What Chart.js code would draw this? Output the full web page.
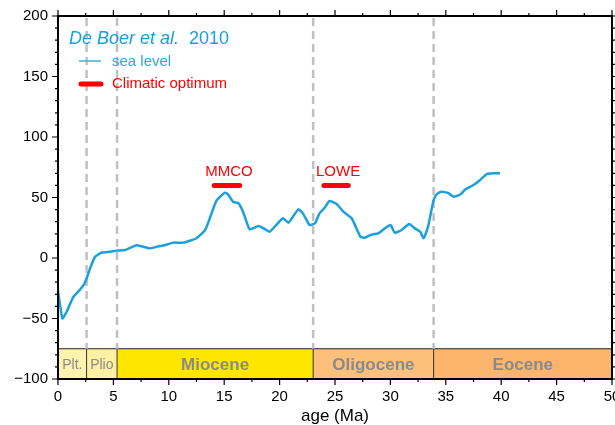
<!DOCTYPE html>
<html>
<head>
<meta charset="utf-8">
<script src="https://cdn.jsdelivr.net/npm/chart.js@4"></script>
<style>
  body { margin: 0; background: #fff; }
</style>
</head>
<body>
<canvas id="myChart" width="615" height="425"></canvas>
<script>
// sea level curve (De Boer et al. 2010), age in Ma, level in m
const ages = [0, 0.4, 0.8, 1.4, 2.0, 2.45, 2.9, 3.35, 3.95, 4.7, 5.3, 6.05, 7.1, 8.3, 9.2, 9.7,
    10.4, 11.3, 12.5, 13.27, 13.7, 14.3, 15.07, 15.4, 15.8, 16.3, 16.7, 17.3, 18.1, 18.7, 19.1,
    19.7, 20.3, 20.8, 21.2, 21.7, 22.1, 22.7, 23.2, 23.6, 24.1, 24.5, 25.15, 25.75, 26.5, 27.3,
    27.7, 28.2, 28.9, 29.5, 30.0, 30.4, 31.0, 31.7, 32.2, 32.7, 33.0, 33.4, 33.9, 34.2, 34.6,
    35.2, 35.7, 36.3, 36.8, 37.5, 38.1, 38.7, 39.3, 39.9];
const seaLevel = [-27, -50, -44, -32, -26, -20, -8.5, 1, 4.5, 5.2, 6.1, 6.6, 10.5, 8, 9.9, 10.7,
    12.7, 12.7, 16.3, 23, 32.8, 47.4, 54, 52, 46.5, 45.2, 38.3, 23.7, 26.4, 23.7, 21.7,
    27.3, 32.8, 29.2, 34.1, 40.2, 36.9, 27.3, 28.7, 36.9, 41.9, 47.1, 44.6, 38.3, 32.8, 17.6,
    16.8, 19, 20.4, 24.5, 27.3, 20.9, 23.1, 28.1, 24.5, 21.7, 16.3, 25.9, 47.9, 52.9, 54.8,
    53.8, 50.7, 52.5, 57, 60.3, 64.5, 69.4, 70, 70];

// climatic optima
const optNames = ['MMCO', 'LOWE'];
const optStart = [14.1, 24.0];
const optEnd = [16.4, 26.2];
const optLevel = 60;

// epochs
const epochNames = ['Plt.', 'Plio', 'Miocene', 'Oligocene', 'Eocene'];
const epochStart = [0, 2.58, 5.33, 23.03, 33.9];
const epochEnd = [2.58, 5.33, 23.03, 33.9, 56];
const epochColors = ['#fff3b0', '#fff0a4', '#ffe600', '#fdc07a', '#fdb46c'];
const epochBold = [false, false, true, true, true];
const epochTop = -75;
const epochBottom = -100;

const xTicks = [0, 5, 10, 15, 20, 25, 30, 35, 40, 45, 50];
const yTicks = [-100, -50, 0, 50, 100, 150, 200];

const FONT = '"Liberation Sans", Arial, Helvetica, sans-serif';
const BLUE = '#1aa0dc';
const RED = '#ff0000';

const points = ages.map((a, i) => ({ x: a, y: seaLevel[i] }));
const optSets = optNames.map((n, i) => ({
    label: n,
    data: [{ x: optStart[i], y: optLevel }, { x: optEnd[i], y: optLevel }],
    borderColor: RED,
    borderWidth: 5,
    borderCapStyle: 'round',
    pointRadius: 0,
    tension: 0
}));

// background: epoch bands + dashed boundaries
const bandsPlugin = {
    id: 'bands',
    beforeDatasetsDraw(chart) {
        const ctx = chart.ctx;
        const xs = chart.scales.x, ys = chart.scales.y;
        const area = chart.chartArea;
        const yT = ys.getPixelForValue(epochTop), yB = ys.getPixelForValue(epochBottom);
        ctx.save();
        ctx.beginPath();
        ctx.rect(area.left, area.top, area.right - area.left, area.bottom - area.top);
        ctx.clip();
        for (let i = 0; i < epochNames.length; i++) {
            const x0 = xs.getPixelForValue(epochStart[i]);
            const x1 = Math.min(xs.getPixelForValue(epochEnd[i]), area.right);
            ctx.fillStyle = epochColors[i];
            ctx.fillRect(x0, yT, x1 - x0, yB - yT);
            ctx.strokeStyle = '#333';
            ctx.lineWidth = 1;
            ctx.beginPath();
            ctx.moveTo(x0, yT); ctx.lineTo(x0, yB);
            ctx.stroke();
            ctx.fillStyle = '#8a8a8a';
            ctx.font = (epochBold[i] ? 'bold 17px ' : '14px ') + FONT;
            ctx.textAlign = 'center';
            ctx.textBaseline = 'middle';
            ctx.fillText(epochNames[i], (x0 + x1) / 2, (yT + yB) / 2 + 1);
        }
        ctx.strokeStyle = '#222';
        ctx.lineWidth = 1.2;
        ctx.beginPath();
        ctx.moveTo(area.left, yT); ctx.lineTo(area.right, yT);
        ctx.stroke();
        // dashed boundaries
        ctx.strokeStyle = '#c0c0c0';
        ctx.lineWidth = 2.5;
        ctx.setLineDash([8, 5]);
        for (let i = 1; i < epochNames.length; i++) {
            const x = xs.getPixelForValue(epochStart[i]);
            ctx.beginPath();
            ctx.moveTo(x, area.top + 2); ctx.lineTo(x, yT);
            ctx.stroke();
        }
        ctx.restore();
    }
};

// frame, ticks, texts
const overlayPlugin = {
    id: 'overlay',
    afterDraw(chart) {
        const ctx = chart.ctx;
        const xs = chart.scales.x, ys = chart.scales.y;
        const a = chart.chartArea;
        ctx.save();
        ctx.strokeStyle = '#000';
        ctx.lineWidth = 1.2;
        // x ticks, major every 5, minor every 2.5
        for (let v = 0; v <= 50; v += 2.5) {
            const x = xs.getPixelForValue(v);
            const len = v % 5 === 0 ? 6 : 3;
            ctx.beginPath();
            ctx.moveTo(x, a.bottom); ctx.lineTo(x, a.bottom + len);
            ctx.moveTo(x, a.top); ctx.lineTo(x, a.top - len);
            ctx.stroke();
        }
        for (let v = -100; v <= 200; v += 10) {
            const y = ys.getPixelForValue(v);
            const len = v % 50 === 0 ? 6 : 3;
            ctx.beginPath();
            ctx.moveTo(a.left, y); ctx.lineTo(a.left - len, y);
            ctx.moveTo(a.right, y); ctx.lineTo(a.right + len, y);
            ctx.stroke();
        }
        ctx.lineWidth = 2;
        ctx.strokeRect(a.left, a.top, a.right - a.left, a.bottom - a.top);

        // optimum labels
        ctx.fillStyle = RED;
        ctx.font = '15px ' + FONT;
        ctx.textAlign = 'center';
        ctx.textBaseline = 'bottom';
        for (let i = 0; i < optNames.length; i++) {
            const x = xs.getPixelForValue((optStart[i] + optEnd[i]) / 2) + 2;
            ctx.fillText(optNames[i], x, ys.getPixelForValue(optLevel) - 6);
        }

        // title
        ctx.textAlign = 'left';
        ctx.textBaseline = 'alphabetic';
        ctx.fillStyle = BLUE;
        ctx.font = 'italic 18px ' + FONT;
        ctx.fillText('De Boer et al.', 69, 44);
        const w = ctx.measureText('De Boer et al.').width;
        ctx.font = '18px ' + FONT;
        ctx.fillText('  2010', 69 + w, 44);

        // legend
        ctx.strokeStyle = '#3cb0e6';
        ctx.lineWidth = 1.5;
        ctx.beginPath();
        ctx.moveTo(79, 61); ctx.lineTo(101, 61);
        ctx.stroke();
        ctx.strokeStyle = RED;
        ctx.lineWidth = 5;
        ctx.lineCap = 'round';
        ctx.beginPath();
        ctx.moveTo(81, 84); ctx.lineTo(101, 84);
        ctx.stroke();
        ctx.font = '15px ' + FONT;
        ctx.textBaseline = 'middle';
        ctx.fillStyle = '#2aa8e0';
        ctx.fillText('sea level', 112, 62);
        ctx.fillStyle = RED;
        ctx.fillText('Climatic optimum', 112, 84);
        ctx.restore();
    }
};

const minus = v => (v < 0 ? '\u2212' + Math.abs(v) : String(v));

new Chart(document.getElementById('myChart').getContext('2d'), {
    type: 'line',
    data: {
        datasets: [{
            label: 'sea level',
            data: points,
            borderColor: BLUE,
            borderWidth: 2.5,
            pointRadius: 0,
            tension: 0.15
        }].concat(optSets)
    },
    options: {
        responsive: false,
        animation: false,
        layout: { padding: { top: 16, right: 3, left: 0, bottom: 0 } },
        plugins: { legend: { display: false }, tooltip: { enabled: false } },
        scales: {
            x: {
                type: 'linear',
                min: 0,
                max: 50,
                afterBuildTicks: s => { s.ticks = xTicks.map(v => ({ value: v })); },
                afterFit: s => { s.height = 46; s.paddingLeft = 0; s.paddingRight = 0; },
                grid: { display: false, drawTicks: false },
                border: { display: false },
                ticks: { color: '#000', font: { family: FONT, size: 15 }, padding: 9, maxRotation: 0, autoSkip: false },
                title: { display: true, text: 'age (Ma)', color: '#000', font: { family: FONT, size: 17 }, padding: { top: 0, bottom: -2 } }
            },
            y: {
                min: -100,
                max: 200,
                afterBuildTicks: s => { s.ticks = yTicks.map(v => ({ value: v })); },
                afterFit: s => { s.width = 58; s.paddingTop = 0; s.paddingBottom = 0; },
                grid: { display: false, drawTicks: false },
                border: { display: false },
                ticks: { color: '#000', font: { family: FONT, size: 15 }, padding: 10, callback: minus }
            }
        }
    },
    plugins: [bandsPlugin, overlayPlugin]
});
</script>
</body>
</html>
